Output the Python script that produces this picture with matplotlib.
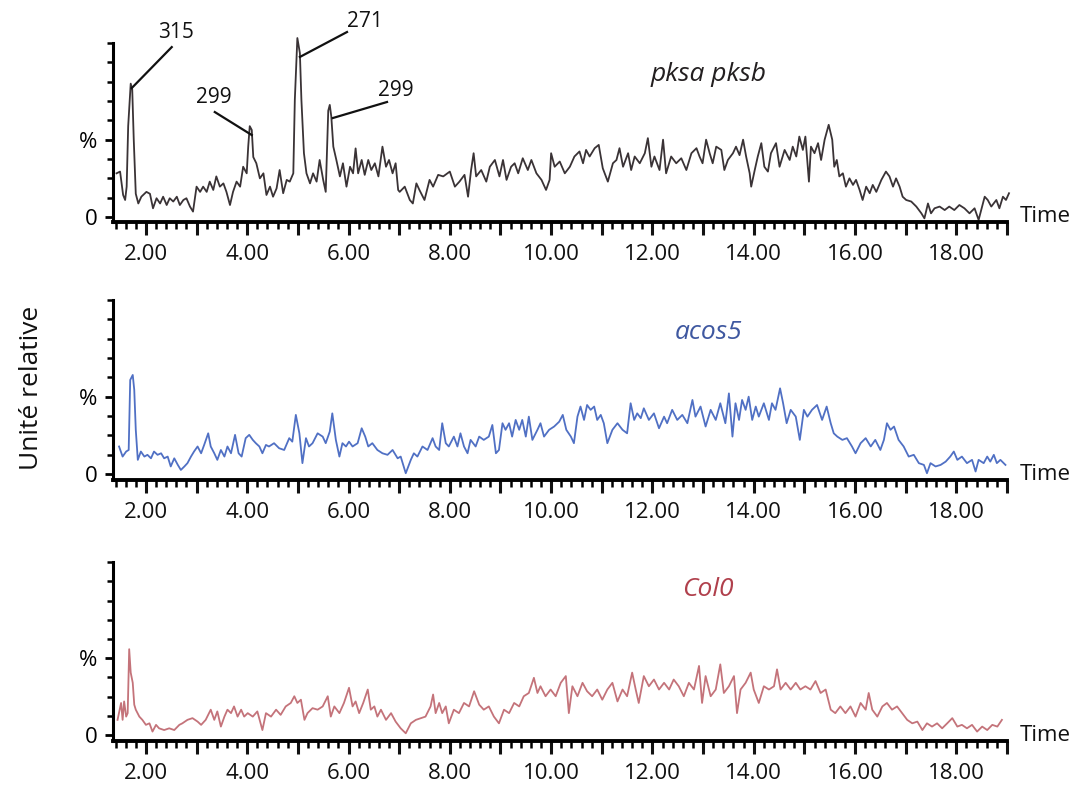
import matplotlib
matplotlib.use("Agg")
import matplotlib.pyplot as plt
from matplotlib.ticker import FixedLocator

plt.rcParams['font.family'] = ['Open Sans', 'DejaVu Sans']

# pksa pksb trace (time in min, relative intensity)
time_pks = [1.42, 1.49, 1.55, 1.59, 1.62, 1.65, 1.70, 1.73, 1.76, 1.80, 1.85, 1.91, 2.01, 2.08, 2.14,
            2.21, 2.28, 2.34, 2.41, 2.47, 2.54, 2.61, 2.67, 2.74, 2.80, 2.87, 2.93, 3.00, 3.07, 3.13,
            3.20, 3.26, 3.33, 3.39, 3.46, 3.53, 3.59, 3.66, 3.72, 3.79, 3.86, 3.92, 3.99, 4.02, 4.05,
            4.09, 4.12, 4.18, 4.25, 4.32, 4.38, 4.45, 4.51, 4.58, 4.64, 4.71, 4.78, 4.84, 4.91, 4.94,
            4.99, 5.04, 5.07, 5.12, 5.17, 5.24, 5.30, 5.37, 5.43, 5.50, 5.55, 5.60, 5.63, 5.66, 5.70,
            5.76, 5.83, 5.89, 5.96, 6.03, 6.09, 6.14, 6.19, 6.26, 6.32, 6.39, 6.45, 6.52, 6.59, 6.67,
            6.74, 6.80, 6.87, 6.93, 6.98, 7.01, 7.11, 7.21, 7.27, 7.34, 7.40, 7.50, 7.60, 7.67, 7.77,
            7.87, 8.00, 8.10, 8.19, 8.29, 8.36, 8.42, 8.47, 8.52, 8.62, 8.72, 8.79, 8.89, 8.98, 9.05,
            9.12, 9.21, 9.28, 9.35, 9.44, 9.54, 9.61, 9.71, 9.81, 9.90, 9.97, 10.00, 10.07, 10.17, 10.27,
            10.37, 10.46, 10.56, 10.63, 10.69, 10.76, 10.86, 10.94, 11.02, 11.12, 11.22, 11.29, 11.35, 11.42, 11.52,
            11.58, 11.65, 11.75, 11.85, 11.91, 11.98, 12.04, 12.14, 12.21, 12.27, 12.37, 12.47, 12.57, 12.67, 12.77,
            12.87, 12.93, 12.99, 13.06, 13.13, 13.19, 13.26, 13.36, 13.42, 13.49, 13.59, 13.65, 13.72, 13.79, 13.85,
            13.92, 13.95, 14.02, 14.08, 14.15, 14.21, 14.28, 14.34, 14.44, 14.51, 14.61, 14.71, 14.77, 14.84, 14.90,
            14.97, 15.02, 15.09, 15.13, 15.20, 15.27, 15.33, 15.40, 15.48, 15.55, 15.59, 15.64, 15.69, 15.76, 15.82,
            15.89, 15.96, 16.02, 16.09, 16.15, 16.22, 16.29, 16.35, 16.42, 16.52, 16.61, 16.68, 16.75, 16.81, 16.88,
            16.94, 17.01, 17.11, 17.21, 17.31, 17.37, 17.44, 17.50, 17.57, 17.67, 17.77, 17.86, 17.96, 18.06, 18.16,
            18.26, 18.36, 18.44, 18.51, 18.56, 18.62, 18.69, 18.79, 18.85, 18.92, 18.98, 19.04]
int_pks = [2.26, 2.35, 1.14, 0.88, 1.57, 4.7, 6.9, 6.6, 4.0, 1.2, 0.7, 1.05, 1.3, 1.2, 0.45,
           0.97, 0.7, 1.05, 0.62, 0.97, 0.8, 1.05, 0.62, 0.88, 0.97, 0.54, 0.28, 1.57, 1.3, 1.57,
           1.3, 1.83, 1.4, 2.1, 1.57, 1.74, 1.3, 0.62, 1.3, 1.83, 1.57, 2.6, 2.26, 3.65, 4.7,
           4.5, 3.1, 2.78, 2.0, 2.26, 1.14, 1.57, 1.05, 1.48, 2.43, 1.23, 1.92, 1.83, 2.26, 6.06,
           9.26, 8.48, 6.06, 3.3, 2.26, 1.74, 2.26, 1.83, 2.95, 1.92, 1.3, 5.5, 5.8, 5.2, 3.64,
           2.95, 2.1, 2.78, 1.57, 2.6, 2.26, 3.55, 2.26, 2.95, 2.18, 2.95, 2.43, 2.78, 2.1, 3.64,
           2.6, 2.95, 2.26, 2.78, 1.4, 1.3, 1.57, 0.88, 0.7, 1.74, 1.4, 0.88, 1.92, 1.57, 2.18,
           2.1, 2.35, 1.57, 1.83, 2.18, 1.05, 2.43, 3.3, 2.1, 2.43, 1.83, 2.6, 2.95, 2.1, 2.95,
           1.92, 2.6, 2.78, 2.26, 3.04, 2.43, 2.95, 2.26, 1.92, 1.4, 1.92, 3.3, 2.6, 2.87, 2.26,
           2.6, 3.13, 3.39, 2.78, 3.47, 3.13, 3.56, 3.73, 2.52, 1.83, 2.78, 2.95, 3.56, 2.6, 3.3,
           2.43, 3.13, 2.78, 3.3, 4.08, 2.6, 3.13, 2.43, 4.0, 2.26, 3.13, 2.78, 3.04, 2.43, 3.3,
           3.56, 3.13, 2.78, 4.0, 3.3, 2.78, 3.64, 3.47, 2.43, 2.95, 3.3, 3.64, 3.2, 4.0, 3.13,
           2.26, 1.57, 2.43, 3.13, 3.82, 2.6, 2.35, 3.3, 3.82, 2.6, 3.47, 2.95, 3.64, 3.13, 4.16,
           3.47, 4.16, 1.83, 3.64, 3.3, 3.82, 2.95, 4.0, 4.77, 4.0, 2.6, 2.95, 2.1, 2.26, 1.57,
           2.0, 1.66, 1.92, 1.4, 0.88, 1.57, 1.23, 1.66, 1.3, 1.92, 2.35, 2.1, 1.57, 2.0, 1.57,
           1.05, 0.88, 0.8, 0.54, 0.19, -0.07, 0.7, 0.19, 0.45, 0.54, 0.36, 0.54, 0.36, 0.62, 0.45,
           0.19, 0.45, -0.15, 0.54, 1.05, 0.88, 0.54, 0.88, 0.45, 1.05, 0.88, 1.23]

# acos5 trace
time_acos = [1.47, 1.54, 1.61, 1.66, 1.69, 1.74, 1.77, 1.80, 1.84, 1.90, 1.97, 2.03, 2.10, 2.16, 2.23,
             2.30, 2.36, 2.43, 2.49, 2.56, 2.63, 2.69, 2.76, 2.82, 2.89, 2.95, 3.02, 3.09, 3.15, 3.23,
             3.28, 3.35, 3.41, 3.48, 3.55, 3.61, 3.68, 3.76, 3.83, 3.89, 3.97, 4.04, 4.11, 4.17, 4.24,
             4.30, 4.37, 4.43, 4.53, 4.63, 4.73, 4.83, 4.89, 4.96, 5.03, 5.09, 5.16, 5.22, 5.29, 5.39,
             5.49, 5.55, 5.63, 5.68, 5.75, 5.82, 5.88, 5.95, 6.01, 6.08, 6.18, 6.26, 6.33, 6.39, 6.47,
             6.57, 6.67, 6.77, 6.87, 6.97, 7.03, 7.13, 7.23, 7.29, 7.36, 7.46, 7.56, 7.66, 7.72, 7.79,
             7.85, 7.92, 7.98, 8.08, 8.15, 8.21, 8.28, 8.35, 8.41, 8.51, 8.58, 8.67, 8.77, 8.84, 8.91,
             8.97, 9.04, 9.10, 9.17, 9.23, 9.30, 9.37, 9.43, 9.50, 9.56, 9.63, 9.73, 9.79, 9.86, 9.96,
             10.06, 10.16, 10.23, 10.30, 10.39, 10.45, 10.52, 10.58, 10.65, 10.71, 10.78, 10.85, 10.91, 10.98, 11.04,
             11.11, 11.21, 11.31, 11.41, 11.50, 11.57, 11.64, 11.70, 11.77, 11.83, 11.93, 12.03, 12.13, 12.23, 12.29,
             12.39, 12.49, 12.59, 12.69, 12.79, 12.85, 12.95, 13.05, 13.15, 13.25, 13.34, 13.44, 13.51, 13.58, 13.64,
             13.71, 13.77, 13.84, 13.90, 13.97, 14.04, 14.10, 14.20, 14.30, 14.36, 14.43, 14.52, 14.58, 14.65, 14.73,
             14.83, 14.91, 14.99, 15.06, 15.15, 15.25, 15.35, 15.44, 15.52, 15.58, 15.65, 15.75, 15.84, 15.94, 16.01,
             16.11, 16.21, 16.31, 16.40, 16.50, 16.57, 16.63, 16.70, 16.77, 16.86, 16.96, 17.06, 17.16, 17.26, 17.36,
             17.42, 17.49, 17.59, 17.69, 17.79, 17.88, 17.95, 18.02, 18.11, 18.21, 18.31, 18.38, 18.44, 18.54, 18.61,
             18.67, 18.74, 18.80, 18.87, 18.97]
int_acos = [1.43, 0.91, 1.17, 1.25, 4.86, 5.12, 4.35, 2.29, 0.74, 1.17, 0.91, 1.0, 0.82, 1.17, 1.0,
            1.08, 0.82, 0.91, 0.4, 0.82, 0.48, 0.22, 0.4, 0.57, 0.91, 1.17, 1.43, 1.08, 1.51, 2.11,
            1.43, 1.08, 0.74, 1.25, 0.91, 1.43, 1.08, 2.03, 1.08, 0.91, 1.86, 2.03, 1.77, 1.6, 1.43,
            1.08, 1.51, 1.43, 1.6, 1.34, 1.25, 1.86, 1.68, 3.06, 2.11, 0.57, 1.86, 1.43, 1.6, 2.11,
            1.94, 1.6, 2.2, 3.14, 1.77, 0.91, 1.6, 1.43, 1.68, 1.43, 1.6, 2.37, 1.94, 1.43, 1.6,
            1.25, 1.08, 1.0, 1.25, 0.82, 0.91, 0.05, 0.74, 1.08, 0.91, 1.43, 1.25, 1.86, 1.43, 1.25,
            2.63, 1.6, 1.43, 1.94, 1.43, 2.11, 1.43, 1.08, 1.77, 1.43, 1.94, 1.77, 1.94, 2.54, 1.08,
            1.25, 2.63, 2.29, 2.63, 1.94, 2.8, 2.29, 2.8, 1.94, 2.97, 1.77, 2.29, 2.63, 1.94, 2.29,
            2.46, 2.71, 3.06, 2.29, 1.94, 1.6, 2.97, 3.49, 2.8, 3.57, 3.32, 3.49, 2.8, 3.06, 2.63,
            1.6, 2.29, 2.63, 2.29, 2.11, 3.66, 2.8, 3.14, 2.89, 3.4, 2.8, 3.14, 2.37, 2.97, 2.63,
            3.32, 2.8, 3.06, 2.63, 3.83, 2.97, 3.49, 2.46, 3.32, 2.8, 3.66, 2.63, 4.17, 1.94, 3.66,
            2.8, 3.83, 3.32, 4.0, 2.8, 3.49, 2.97, 3.66, 2.8, 3.66, 3.32, 4.43, 3.66, 2.63, 3.32,
            2.97, 1.77, 3.32, 2.97, 3.32, 3.57, 2.8, 3.49, 2.63, 2.11, 1.94, 1.77, 1.86, 1.43, 1.08,
            1.6, 1.86, 1.43, 1.77, 1.25, 1.77, 2.63, 2.29, 2.46, 1.77, 1.43, 0.91, 1.0, 0.57, 0.48,
            0.05, 0.57, 0.4, 0.48, 0.65, 0.91, 1.17, 0.74, 0.91, 0.57, 0.74, 0.14, 0.74, 0.57, 0.91,
            0.65, 1.0, 0.57, 0.74, 0.48]

# Col0 trace
time_col = [1.44, 1.51, 1.54, 1.57, 1.61, 1.64, 1.67, 1.70, 1.74, 1.77, 1.80, 1.87, 1.93, 2.00, 2.07,
            2.13, 2.20, 2.26, 2.36, 2.46, 2.56, 2.66, 2.72, 2.82, 2.92, 3.02, 3.09, 3.18, 3.28, 3.35,
            3.41, 3.48, 3.55, 3.61, 3.68, 3.74, 3.81, 3.88, 3.94, 4.01, 4.11, 4.20, 4.30, 4.37, 4.47,
            4.57, 4.66, 4.76, 4.86, 4.93, 4.99, 5.06, 5.13, 5.19, 5.29, 5.39, 5.49, 5.59, 5.65, 5.72,
            5.82, 5.91, 6.01, 6.08, 6.14, 6.21, 6.29, 6.38, 6.44, 6.51, 6.57, 6.64, 6.74, 6.84, 6.93,
            7.03, 7.13, 7.23, 7.33, 7.43, 7.52, 7.62, 7.67, 7.72, 7.79, 7.85, 7.92, 7.98, 8.08, 8.18,
            8.28, 8.38, 8.48, 8.58, 8.67, 8.77, 8.87, 8.97, 9.07, 9.17, 9.27, 9.37, 9.46, 9.56, 9.66,
            9.73, 9.79, 9.89, 9.99, 10.09, 10.19, 10.29, 10.35, 10.42, 10.52, 10.62, 10.71, 10.81, 10.91, 11.01,
            11.11, 11.21, 11.31, 11.41, 11.50, 11.60, 11.67, 11.73, 11.83, 11.93, 12.03, 12.13, 12.23, 12.33, 12.42,
            12.52, 12.62, 12.72, 12.82, 12.92, 12.98, 13.05, 13.15, 13.25, 13.34, 13.41, 13.51, 13.61, 13.67, 13.74,
            13.84, 13.94, 14.00, 14.10, 14.20, 14.30, 14.40, 14.46, 14.53, 14.63, 14.73, 14.83, 14.92, 15.02, 15.12,
            15.22, 15.32, 15.42, 15.52, 15.61, 15.71, 15.81, 15.91, 16.01, 16.11, 16.21, 16.27, 16.34, 16.44, 16.54,
            16.63, 16.73, 16.83, 16.93, 17.03, 17.13, 17.23, 17.33, 17.42, 17.52, 17.62, 17.72, 17.82, 17.92, 18.02,
            18.11, 18.21, 18.31, 18.41, 18.51, 18.61, 18.71, 18.81, 18.90]
int_col = [0.79, 1.67, 0.79, 1.75, 0.96, 1.14, 4.47, 3.25, 2.72, 1.58, 1.32, 0.96, 0.79, 0.53, 0.61,
           0.18, 0.53, 0.35, 0.26, 0.35, 0.26, 0.53, 0.61, 0.79, 0.88, 0.7, 0.53, 0.79, 1.32, 0.79,
           1.23, 0.44, 0.96, 1.32, 1.14, 1.49, 0.96, 1.32, 0.96, 1.14, 0.96, 1.23, 0.26, 1.14, 0.96,
           1.32, 1.05, 1.49, 1.67, 2.02, 1.67, 1.84, 0.79, 1.14, 1.4, 1.32, 1.49, 2.02, 0.96, 1.49,
           1.14, 1.67, 2.46, 1.49, 1.75, 1.14, 1.67, 2.37, 1.32, 1.49, 0.96, 1.32, 0.79, 1.14, 0.7,
           0.35, 0.09, 0.61, 0.79, 0.88, 0.96, 1.49, 2.11, 1.14, 1.67, 1.14, 1.49, 0.61, 1.32, 1.14,
           1.67, 1.49, 2.28, 1.58, 1.32, 1.49, 0.96, 0.61, 1.32, 1.14, 1.67, 1.49, 2.02, 2.19, 2.98,
           2.19, 2.54, 2.02, 2.37, 2.02, 2.72, 3.07, 1.14, 2.54, 2.02, 2.72, 2.28, 2.02, 2.37, 1.84,
           2.37, 2.72, 1.75, 2.37, 2.02, 3.25, 2.37, 1.67, 3.07, 2.54, 2.89, 2.37, 2.72, 2.37, 2.89,
           2.54, 2.02, 2.72, 2.37, 3.6, 1.67, 3.07, 2.02, 2.37, 3.68, 2.19, 2.54, 3.07, 1.14, 2.37,
           2.72, 3.25, 2.37, 1.67, 2.54, 2.37, 2.54, 3.42, 2.37, 2.72, 2.37, 2.72, 2.37, 2.54, 2.37,
           2.81, 2.19, 2.37, 1.32, 1.14, 1.49, 1.14, 1.49, 0.96, 1.67, 1.32, 2.19, 1.32, 0.96, 1.49,
           1.67, 1.32, 1.49, 1.14, 0.79, 0.61, 0.7, 0.26, 0.61, 0.44, 0.61, 0.35, 0.61, 0.88, 0.44,
           0.53, 0.35, 0.53, 0.18, 0.44, 0.26, 0.53, 0.44, 0.79]

# peak annotations on the top trace: label, peak (t, y), line start (t, y), text (t, y)
peak_labels = ["315", "299", "271", "299"]
peak_tips = [(1.72, 6.67), (4.09, 4.24), (5.04, 8.28), (5.69, 5.12)]
line_starts = [(2.51, 8.79), (3.36, 5.43), (5.97, 9.57), (6.76, 5.95)]
text_pos = [(2.59, 9.57), (3.34, 6.16), (6.32, 10.14), (6.94, 6.57)]

x_labels = [2, 4, 6, 8, 10, 12, 14, 16, 18]

traces = [
    (time_pks, int_pks, "#3a3336", "pksa pksb", "#231f20", 7.35),
    (time_acos, int_acos, "#5070c4", "acos5", "#3f58a0", 7.33),
    (time_col, int_col, "#c4737a", "Col0", "#b0404c", 7.6),
]

fig = plt.figure(figsize=(10.74, 7.89), dpi=100)

# axes positions in figure fraction (left, bottom, width, height) and y bottom limit
boxes = [(0.1052, 0.7186, 0.8324, 0.2391, -0.26),
         (0.1052, 0.3916, 0.8324, 0.2408, -0.30),
         (0.1052, 0.0611, 0.8324, 0.2385, -0.30)]

major_x = list(range(2, 20))
minor_x = [round(1.4 + 0.2 * k, 1) for k in range(88) if abs((1.4 + 0.2 * k) - round(1.4 + 0.2 * k)) > 0.01]

for (tt, yy, col, name, name_col, name_y), (l, b, w, h, ylo) in zip(traces, boxes):
    ax = fig.add_axes([l, b, w, h])
    ax.plot(tt, yy, color=col, lw=1.3, clip_on=False)
    ax.set_xlim(1.35, 19.0)
    ax.set_ylim(ylo, 9.5)
    for s in ["top", "right"]:
        ax.spines[s].set_visible(False)
    ax.spines["left"].set_bounds(ylo, 9)
    ax.spines["left"].set_linewidth(2.2)
    ax.spines["bottom"].set_linewidth(2.8)
    ax.spines["left"].set_capstyle("projecting")
    ax.spines["bottom"].set_capstyle("projecting")

    ax.xaxis.set_major_locator(FixedLocator(major_x))
    ax.set_xticklabels(["%.2f" % v if v in x_labels else "" for v in major_x])
    ax.xaxis.set_minor_locator(FixedLocator(minor_x))
    ax.yaxis.set_major_locator(FixedLocator([0, 4]))
    ax.set_yticklabels(["0", "%"])
    ax.yaxis.set_minor_locator(FixedLocator([1, 2, 3, 5, 6, 7, 8, 9]))

    ax.tick_params(axis="x", which="major", length=9, width=2.2, labelsize=16, pad=7, colors="#111111")
    ax.tick_params(axis="x", which="minor", length=5, width=1.8)
    ax.tick_params(axis="y", which="major", length=6, width=2.0, labelsize=16, pad=5)
    ax.tick_params(axis="y", which="minor", length=4, width=1.8)

    ax.text(19.26, 0, "Time", fontsize=16, ha="left", va="center", color="#111111", clip_on=False)
    ax.text(13.1, name_y, name, fontsize=19, style="italic", ha="center", va="center", color=name_col)

    if name == "pksa pksb":
        for lab, tip, st, tp in zip(peak_labels, peak_tips, line_starts, text_pos):
            ax.plot([st[0], tip[0]], [st[1], tip[1]], color="#111111", lw=1.6, clip_on=False)
            ax.text(tp[0], tp[1], lab, fontsize=15, ha="center", va="center", color="#111111", clip_on=False)

fig.text(32 / 1074, 1 - 388 / 789, "Unité relative", rotation=90, fontsize=19,
         ha="center", va="center", color="#111111")

fig.savefig("out.png", dpi=100)
